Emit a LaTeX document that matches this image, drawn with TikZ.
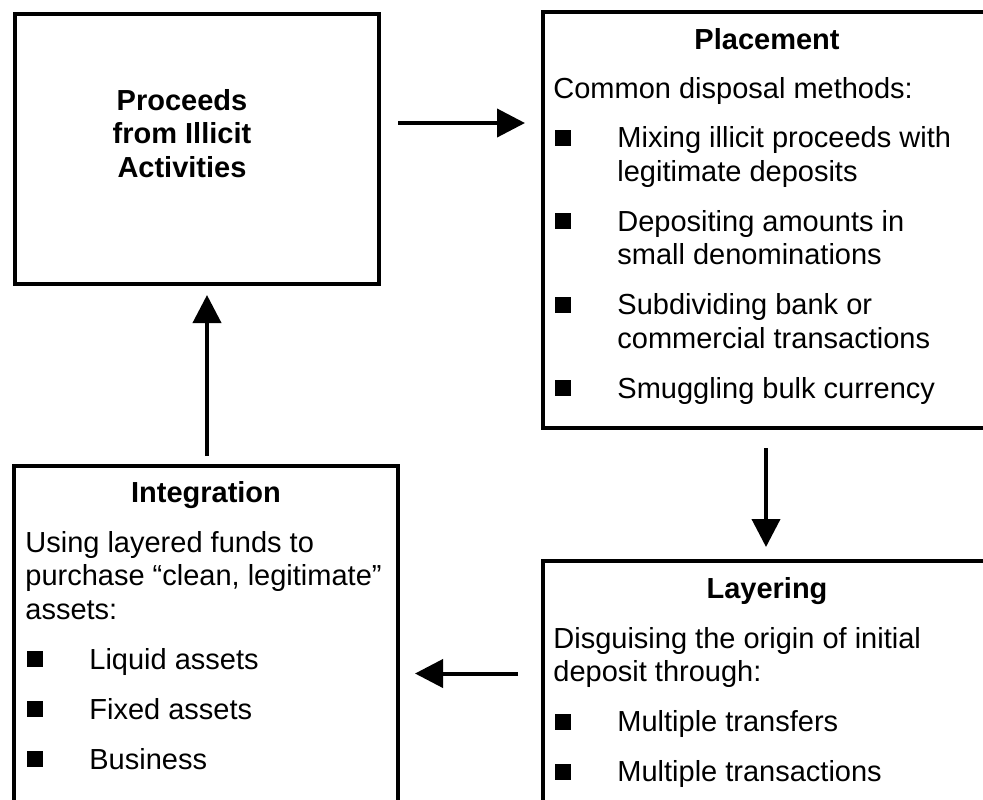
\documentclass[tikz,border=0pt]{standalone}
\usepackage{fontspec}
\setmainfont{Liberation Sans}
\usetikzlibrary{arrows.meta,shapes}

% square bullet with hanging gap
\newcommand{\blt}{\makebox[32pt][l]{\hspace{1pt}\rule[1pt]{8pt}{8pt}}}
\newcommand{\hng}{\hspace*{32pt}}

\begin{document}
\begin{tikzpicture}[x=0.5pt, y=-0.5pt, auto]
      % fix the page to the reference size, boxes run off the right and bottom
      % (multi-line texts are placed by the baseline of their last line)
      \useasboundingbox (0,0) rectangle (983,799);
      \clip (0,0) rectangle (983,799);
      \tikzstyle{format} = [rectangle, draw, line width=2.2pt, inner sep=0pt, outer sep=0pt]
      \tikzstyle{head} = [font=\fontsize{14.5}{16.75}\selectfont\bfseries, inner sep=0pt, anchor=base]
      \tikzstyle{body} = [font=\fontsize{14.5}{16.75}\selectfont, inner sep=0pt, align=left, anchor=base west]
      \tikzstyle{line} = [draw, line width=2pt, -{Triangle[length=14pt, width=14pt]}]
        \node [format, minimum width=182pt, minimum height=135pt] (proceeds) at (197,149) {};
        \node [format, minimum width=226pt, minimum height=208pt] (placement) at (769,220) {};
        \node [format, minimum width=226pt, minimum height=134.5pt] (layering) at (769,695.5) {};
        \node [format, minimum width=192pt, minimum height=182pt] (integration) at (206,648) {};
        % texts
        \node [head, align=center] (proceedstext) at (182,177) {Proceeds\\from Illicit\\Activities};
        \node [head] (placementtitle) at (767,49) {Placement};
        \node [body] (placementtext) at (553,398) {Common disposal methods:\\[7.75pt]
          \blt Mixing illicit proceeds with\\\hng legitimate deposits\\[8.25pt]
          \blt Depositing amounts in\\\hng small denominations\\[8.25pt]
          \blt Subdividing bank or\\\hng commercial transactions\\[8.25pt]
          \blt Smuggling bulk currency};
        \node [head] (layeringtitle) at (767,598) {Layering};
        \node [body] (layeringtext) at (553,781.5) {Disguising the origin of initial\\deposit through:\\[8.25pt]
          \blt Multiple transfers\\[8.25pt]
          \blt Multiple transactions};
        \node [head] (integrationtitle) at (206,502) {Integration};
        \node [body] (integrationtext) at (25,769) {Using layered funds to\\purchase “clean, legitimate”\\assets:\\[8.25pt]
          \blt Liquid assets\\[8.25pt]
          \blt Fixed assets\\[8.25pt]
          \blt Business};
        % the cycle
        \path [line] ([xshift=9.5pt, yshift=13pt]proceeds.east) -- ([xshift=-9pt, yshift=13pt]proceeds.east -| placement.west);
        \path [line] ([xshift=-1.5pt, yshift=-10pt]placement.south) -- ([xshift=-1.5pt, yshift=7pt]layering.north);
        \path [line] ([xshift=-12.5pt, yshift=11pt]layering.west) -- ([xshift=8.5pt, yshift=11pt]layering.west -| integration.east);
        \path [line] ([xshift=0.5pt, yshift=5pt]integration.north) -- ([xshift=0.5pt, yshift=-5.5pt]integration.north |- proceeds.south);
      \end{tikzpicture}
\end{document}
